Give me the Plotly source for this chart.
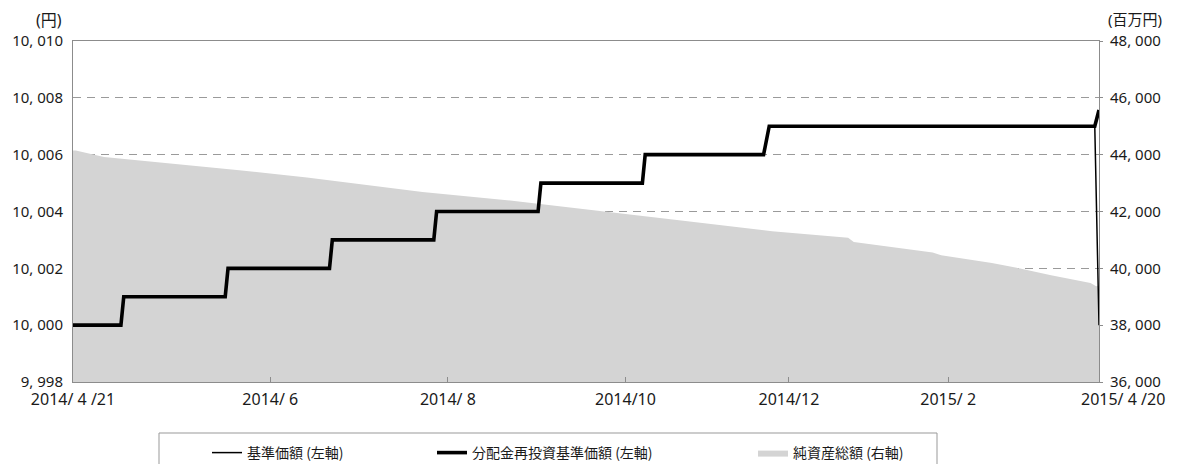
import plotly.graph_objects as go

# ---- data ----
# 分配金再投資基準価額 (left axis, 円)
reinv_dates = ["2014-04-21", "2014-05-08", "2014-05-09", "2014-06-14", "2014-06-15",
               "2014-07-21", "2014-07-22", "2014-08-27", "2014-08-28", "2014-10-03",
               "2014-10-04", "2014-11-09", "2014-11-10", "2014-12-22", "2014-12-24",
               "2015-04-18 12:00", "2015-04-20"]
reinv_values = [10000, 10000, 10001, 10001, 10002,
                10002, 10003, 10003, 10004, 10004,
                10005, 10005, 10006, 10006, 10007,
                10007, 10007.57]

# 基準価額 (left axis, 円)
nav_dates = reinv_dates
nav_values = reinv_values[:-1] + [10000]

# 純資産総額 (right axis, 百万円)
aum_dates = ["2014-04-21", "2014-04-22", "2014-05-02", "2014-05-26", "2014-06-19",
             "2014-07-13", "2014-08-05", "2014-08-23", "2014-09-22", "2014-10-18",
             "2014-10-25", "2014-11-22", "2014-12-25", "2015-01-21", "2015-01-23",
             "2015-02-20", "2015-02-23", "2015-03-13", "2015-03-23", "2015-04-03",
             "2015-04-17", "2015-04-19", "2015-04-20"]
aum_values = [44150, 44150, 43922, 43690, 43454,
              43197, 42926, 42690, 42398, 42106,
              42022, 41695, 41308, 41072, 40931,
              40558, 40463, 40192, 39995, 39759,
              39488, 39372, 39400]

x_tick_dates = ["2014-04-21", "2014-06-30", "2014-09-01", "2014-11-03",
                "2014-12-31", "2015-02-25 12:00", "2015-04-20"]
x_tick_labels = ["2014/ 4 /21", "2014/ 6", "2014/ 8", "2014/10",
                 "2014/12", "2015/ 2", "2015/ 4 /20"]

left_tick_vals = [9998, 10000, 10002, 10004, 10006, 10008, 10010]
left_tick_labels = ["9, 998", "10, 000", "10, 002", "10, 004", "10, 006", "10, 008", "10, 010"]
right_tick_vals = [36000, 38000, 40000, 42000, 44000, 46000, 48000]
right_tick_labels = ["36, 000", "38, 000", "40, 000", "42, 000", "44, 000", "46, 000", "48, 000"]

series_names = ["基準価額 (左軸)", "分配金再投資基準価額 (左軸)", "純資産総額 (右軸)"]
left_unit = "(円)"
right_unit = "(百万円)"

# ---- style ----
FONT = "Noto Sans, Noto Sans CJK JP"
AXIS_COLOR = "#8c8c8c"
GRID_COLOR = "#9a9a9a"
AREA_COLOR = "#d4d4d4"

fig = go.Figure()

fig.add_trace(go.Scatter(
    x=aum_dates, y=aum_values, name=series_names[2], mode="lines",
    fill="tozeroy", fillcolor=AREA_COLOR, line=dict(width=0, color=AREA_COLOR),
    yaxis="y", legend="legend3"))

fig.add_trace(go.Scatter(
    x=nav_dates, y=nav_values, name=series_names[0], mode="lines",
    line=dict(color="#000000", width=1.5), yaxis="y2", legend="legend"))

fig.add_trace(go.Scatter(
    x=reinv_dates, y=reinv_values, name=series_names[1], mode="lines",
    line=dict(color="#000000", width=3.6), yaxis="y2", legend="legend2"))

W, H = 1178, 464
L, R, T, B = 73, 79, 41, 82
pw, ph = W - L - R, H - T - B


def px_x(p):
    return (p - L) / pw


def px_y(p):
    return (H - B - p) / ph


tick_font = dict(family=FONT, size=15, color="#1a1a1a")
xtick_font = dict(family=FONT, size=16, color="#1a1a1a")
legend_common = dict(orientation="h", xanchor="left", yanchor="middle",
                     bgcolor="rgba(0,0,0,0)", borderwidth=0,
                     font=dict(family="Noto Sans CJK JP", size=14, color="#1a1a1a"))

fig.update_layout(
    width=W, height=H,
    margin=dict(l=L, r=R, t=T, b=B, autoexpand=False),
    paper_bgcolor="white", plot_bgcolor="white",
    font=dict(family=FONT, size=14, color="#1a1a1a"),
    xaxis=dict(
        type="date", range=["2014-04-21", "2015-04-20"],
        tickvals=x_tick_dates[:-1], ticktext=x_tick_labels[:-1],
        ticks="inside", ticklen=5, tickcolor=AXIS_COLOR,
        showline=True, linecolor=AXIS_COLOR, linewidth=1, mirror=True,
        showgrid=False, zeroline=False, tickfont=xtick_font,
        automargin=False, ticklabelstandoff=3,
    ),
    yaxis=dict(
        side="right", range=[36000, 48000],
        tickvals=right_tick_vals, ticktext=right_tick_labels,
        showline=True, linecolor=AXIS_COLOR, linewidth=1,
        showgrid=True, gridcolor=GRID_COLOR, griddash="8px,6px", gridwidth=1,
        zeroline=False, ticks="outside", ticklen=3, tickcolor=AXIS_COLOR,
        tickfont=tick_font, ticklabelstandoff=4, automargin=False,
    ),
    yaxis2=dict(
        side="left", overlaying="y", range=[9998, 10010],
        tickvals=left_tick_vals, ticktext=left_tick_labels,
        showline=True, linecolor=AXIS_COLOR, linewidth=1,
        showgrid=False, zeroline=False, ticks="",
        tickfont=tick_font, ticklabelstandoff=6, automargin=False,
    ),
    legend=dict(x=px_x(207), y=px_y(453), **legend_common),
    legend2=dict(x=px_x(432), y=px_y(453), **legend_common),
    legend3=dict(x=px_x(753), y=px_y(453), **legend_common),
    showlegend=True,
)

# legend frame
fig.add_shape(type="rect", xref="paper", yref="paper",
              x0=px_x(159), x1=px_x(937), y0=px_y(478), y1=px_y(433),
              line=dict(color="#999999", width=1), fillcolor="rgba(0,0,0,0)", layer="above")

# unit labels
fig.add_annotation(text=left_unit, xref="paper", yref="paper", x=px_x(64), y=px_y(20),
                   xanchor="right", yanchor="middle", showarrow=False,
                   font=dict(family=FONT, size=16, color="#1a1a1a"))
fig.add_annotation(text=right_unit, xref="paper", yref="paper", x=px_x(1106), y=px_y(19),
                   xanchor="left", yanchor="middle", showarrow=False,
                   font=dict(family=FONT, size=15, color="#1a1a1a"))

# last x label (offset to the right of the axis end as in the original)
fig.add_annotation(text=x_tick_labels[-1], xref="x", yref="paper", x=x_tick_dates[-1],
                   y=px_y(399), xshift=24, xanchor="center", yanchor="middle",
                   showarrow=False, font=xtick_font)

fig.write_html("out.html", config={"displayModeBar": False},
               post_script="document.body.style.margin='0';")
